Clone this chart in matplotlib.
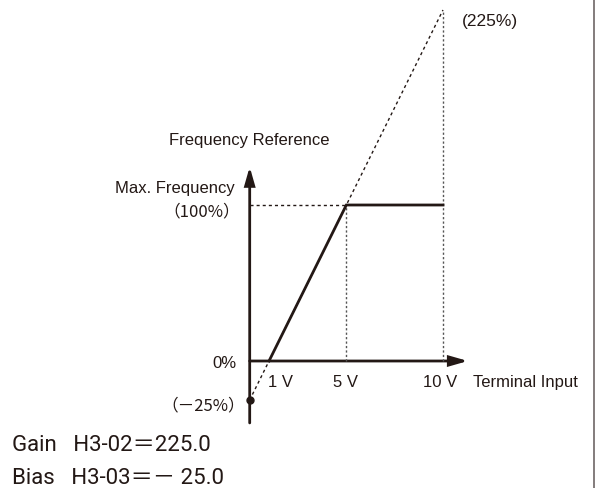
import matplotlib
matplotlib.use("Agg")
import matplotlib.pyplot as plt
from matplotlib.lines import Line2D
from matplotlib.patches import FancyArrowPatch

# Analog input scaling: gain / bias settings
gain_pct = 225.0
bias_pct = -25.0
max_pct = 100.0
v_max = 10.0
tick_volts = [1, 5, 10]
tick_labels = ["1 V", "5 V", "10 V"]
out_volts = [1, 5, 10]
out_pct = [0, 100, 100]

INK = "#231815"
FONT = ["Liberation Sans", "DejaVu Sans"]
CJK = ["Noto Sans CJK JP", "DejaVu Sans"]
BIG = ["Roboto", "Noto Sans CJK JP", "DejaVu Sans"]

W, H = 596, 488
fig = plt.figure(figsize=(W / 100, H / 100), dpi=100)
ax = fig.add_axes([0, 0, 1, 1])
ax.set_axis_off()

# linear pixel mapping: 1 V = 19.33 px, 100 % = 156 px
x0_px, px_per_v = 249.7, 19.33
y0_px, px_per_pct = 361.0, 1.56
ax.set_xlim(-x0_px / px_per_v, (W - x0_px) / px_per_v)
ax.set_ylim(-(H - y0_px) / px_per_pct, y0_px / px_per_pct)


def axis_arrow(start, end):
    ax.add_patch(FancyArrowPatch(start, end,
                                 arrowstyle="-|>,head_length=1.4,head_width=0.4",
                                 mutation_scale=7.5, color=INK, lw=2.0,
                                 shrinkA=0, shrinkB=0, joinstyle="miter"))


axis_arrow((0, -39.7), (0, 124.5))
axis_arrow((0, 0), (11.29, 0))

# extended gain line (dotted)
ax.plot([0, v_max], [bias_pct, gain_pct], color=INK, lw=1.0,
        linestyle=(0, (2.2, 2.2)))
# guide lines
ax.plot([0, 5], [max_pct, max_pct], color=INK, lw=1.0, linestyle=(0, (2.2, 2.2)))
ax.plot([5, 5], [0, max_pct], color="#555555", lw=1.0, linestyle=(0, (1.6, 1.6)))
ax.plot([10, 10], [0, gain_pct], color="#555555", lw=1.0, linestyle=(0, (1.6, 1.6)))

# actual output
ax.plot(out_volts, out_pct, color=INK, lw=2.0, solid_joinstyle="miter")
ax.plot([0], [bias_pct], "o", color=INK, ms=5)

fs = 12
ax.text(0, 138.5, "Frequency Reference", ha="center", va="baseline",
        fontsize=fs, color=INK, family=FONT)
ax.text(-0.78, 107.5, "Max. Frequency", ha="right", va="baseline",
        fontsize=fs, color=INK, family=FONT)
ax.text(-0.5, 92.9, "（100%）", ha="right", va="baseline",
        fontsize=fs, color=INK, family=CJK)
ax.text(-0.68, -4.3, "0%", ha="right", va="baseline", fontsize=fs, color=INK,
        family=FONT)
ax.text(-0.25, -31.4, "（\uFF0D25%）", ha="right", va="baseline",
        fontsize=fs, color=INK, family=CJK)
ax.text(10.98, 214.7, "(225%)", ha="left", va="baseline",
        fontsize=12.5, color=INK, family=FONT)

label_x = {1: 1.58, 5: 4.95, 10: 9.85}
for v, lab in zip(tick_volts, tick_labels):
    ax.text(label_x[v], -16.9, lab, ha="center", va="baseline",
            fontsize=fs, color=INK, family=FONT)
ax.text(11.55, -16.9, "Terminal Input", ha="left", va="baseline",
        fontsize=fs, color=INK, family=FONT)

fig.text(12 / W, 1 - 451 / H, "Gain   H3-02\uFF1D225.0", ha="left", va="baseline",
         fontsize=16, color=INK, family=BIG)
fig.text(12 / W, 1 - 484 / H, "Bias   H3-03\uFF1D\uFF0D 25.0", ha="left",
         va="baseline", fontsize=16, color=INK, family=BIG)

# right frame edge
fig.add_artist(Line2D([594 / W, 594 / W], [0, 1], color="#7a7272", lw=1.3,
                      transform=fig.transFigure))

fig.savefig("out.png", dpi=100)
